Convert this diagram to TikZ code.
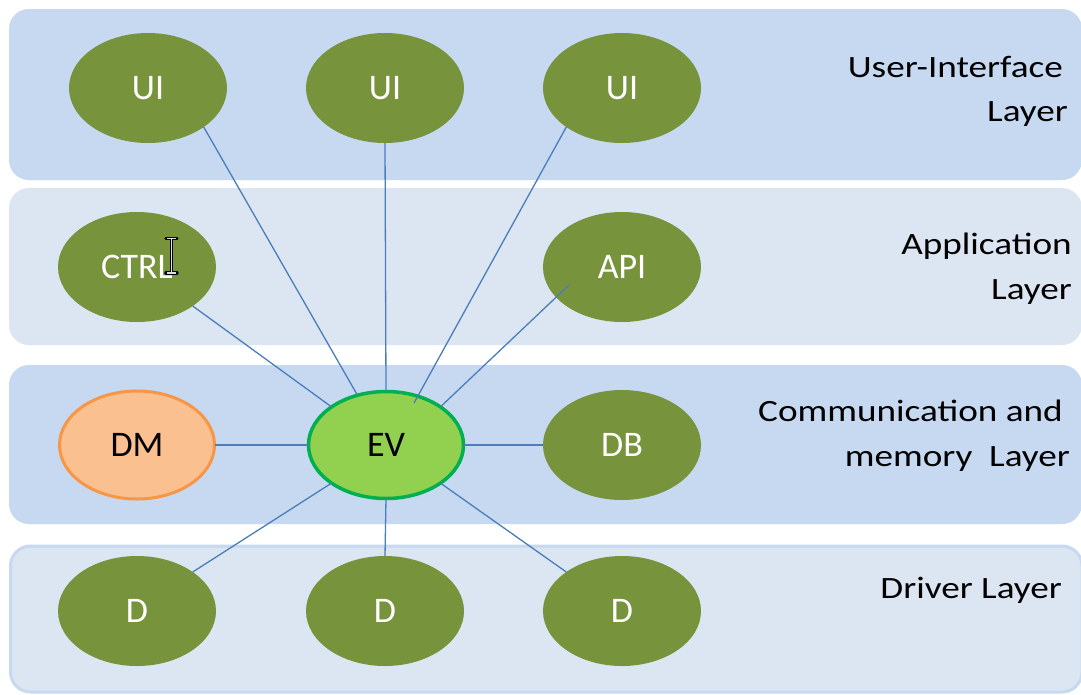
\documentclass[tikz,border=0pt]{standalone}
\usepackage{fontspec}
\setmainfont{Carlito}
\newfontfamily\labelfont[FakeStretch=1.2]{Carlito}
\usetikzlibrary{shapes.geometric}

\definecolor{bandDark}{HTML}{C6D9F1}
\definecolor{bandLight}{HTML}{DCE6F2}
\definecolor{unitOlive}{HTML}{77933C}
\definecolor{evFill}{HTML}{92D050}
\definecolor{evRim}{HTML}{00B050}
\definecolor{dmFill}{HTML}{FAC090}
\definecolor{dmRim}{HTML}{F79646}
\definecolor{linkBlue}{HTML}{4A7EBB}

\pgfdeclarelayer{bands}
\pgfdeclarelayer{links}
\pgfsetlayers{bands,links,main}

\tikzset{
  band/.style={rounded corners=20pt},
  unit/.style={ellipse, fill=unitOlive, minimum width=158pt, minimum height=110pt,
    inner sep=0pt, outer sep=0pt, text=white, font=\fontsize{36}{40}\selectfont},
  hub/.style={unit, fill=evFill, draw=evRim, line width=3.5pt, text=black,
    minimum width=155pt, minimum height=107pt},
  memunit/.style={unit, fill=dmFill, draw=dmRim, line width=3pt, text=black,
    minimum width=155pt, minimum height=108pt},
  link/.style={draw=linkBlue, line width=1.3pt},
  layerlabel/.style={anchor=base east, inner sep=0pt, text=black,
    font=\labelfont\fontsize{31}{36}\selectfont}
}

\begin{document}
\begin{tikzpicture}[x=1pt,y=-1pt]
\useasboundingbox (0,0) rectangle (1081,694);

% page and layer bands
\begin{pgfonlayer}{bands}
  \fill[white] (0,0) rectangle (1081,694);
  \fill[band, bandDark]  (9,9)    rectangle (1082,180);
  \fill[band, bandLight] (9,188)  rectangle (1082,345);
  \fill[band, bandDark]  (9,365)  rectangle (1082,524);
  \draw[band, fill=bandLight, draw=bandDark, line width=3pt] (10.5,546) rectangle (1082,692);
\end{pgfonlayer}

% user-interface layer
\node[unit] (ui1) at (148,88)  {UI};
\node[unit] (ui2) at (385,88)  {UI};
\node[unit] (ui3) at (622,88)  {UI};
% application layer
\node[unit] (ctrl) at (137,267) {CTRL};
\node[unit] (api)  at (622,267) {API};
% communication and memory layer
\node[memunit] (dm) at (137,445) {DM};
\node[hub]     (ev) at (386,445) {EV};
\node[unit]    (db) at (622,445) {DB};
% driver layer
\node[unit] (d1) at (137,611) {D};
\node[unit] (d2) at (385,611) {D};
\node[unit] (d3) at (622,611) {D};

% free ends of the two links that sit over the ellipses
\coordinate (evtip)   at (414,403);
\coordinate (apitail) at (569,285);

% links running under the hub
\begin{pgfonlayer}{links}
  \draw[link] (ui1.-35) -- (ev.center);
\end{pgfonlayer}

% links
\draw[link] (ui2.south) -- (ev.north);
\draw[link] (ui3.215) -- (evtip);
\draw[link] (ctrl.-35) -- (ev.145);
\draw[link] (apitail) -- (ev.35);
\draw[link] (dm.east) -- (ev.west);
\draw[link] (ev.east) -- (db.west);
\draw[link] (d1.35) -- (ev.215);
\draw[link] (d2.north) -- (ev.south);
\draw[link] (d3.145) -- (ev.-35);

% text cursor resting on the CTRL ellipse
\draw[black, line width=3.2pt, line cap=round]
  (166,238.5) -- (177,238.5) (171.5,238.5) -- (171.5,273) (166,273) -- (177,273);
\draw[gray!25, line width=1.2pt]
  (167,238.5) -- (176,238.5) (171.5,238.5) -- (171.5,273) (167,273) -- (176,273);

% layer captions
\node[layerlabel] (lab-ui-a)  at (1063,77)  {User-Interface};
\node[layerlabel] (lab-ui-b)  at (1068,121) {Layer};
\node[layerlabel] (lab-app-a) at (1072,254) {Application};
\node[layerlabel] (lab-app-b) at (1072,299) {Layer};
\node[layerlabel] (lab-com-a) at (1063,421) {Communication and};
\node[layerlabel] (lab-com-b) at (1070,466) {memory\ \ Layer};
\node[layerlabel] (lab-drv)   at (1062,598) {Driver Layer};
\end{tikzpicture}
\end{document}
